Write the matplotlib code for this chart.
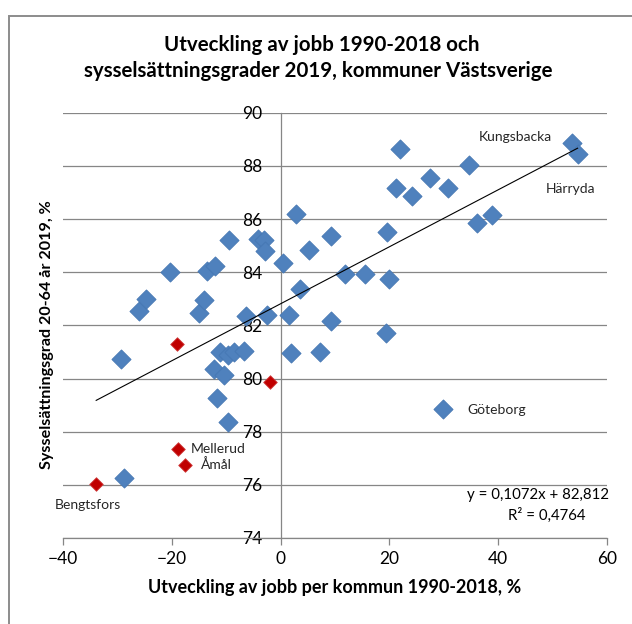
# Utveckling av jobb 1990-2018 vs sysselsättningsgrad 2019, kommuner Västsverige
import matplotlib
matplotlib.use('Agg')
import matplotlib.pyplot as plt
from matplotlib.patches import Rectangle
import numpy as np

plt.rcParams['font.family'] = ['Lato', 'DejaVu Sans']

# Blue municipalities: job growth 1990-2018 (%) and employment rate 20-64 2019 (%)
blue_x = [-29.3, -28.8, -26.0, -24.7, -20.3, -15.0, -14.0, -13.6, -12.0, -12.2,
          -11.7, -11.1, -10.4, -9.6, -9.6, -9.4, -8.5, -6.8, -6.3, -4.1,
          -3.0, -2.8, -2.5, 0.5, 1.5, 1.9, 2.8, 3.5, 5.2, 7.3,
          9.2, 9.3, 11.8, 15.6, 19.4, 19.5, 19.9, 21.3, 21.9, 24.1,
          27.4, 29.9, 30.8, 34.6, 36.1, 38.8, 53.5, 54.6]
blue_y = [80.75, 76.25, 82.55, 83.0, 84.0, 82.45, 82.95, 84.05, 84.25, 80.35,
          79.25, 81.0, 80.15, 80.9, 78.35, 85.2, 81.0, 81.05, 82.35, 85.25,
          85.2, 84.8, 82.4, 84.35, 82.4, 80.95, 86.2, 83.35, 84.85, 81.0,
          85.35, 82.15, 83.95, 83.95, 81.7, 85.5, 83.75, 87.15, 88.65, 86.85,
          87.55, 78.85, 87.15, 88.05, 85.85, 86.15, 88.85, 88.45]

# Highlighted (red) municipalities
red_x = [-33.9, -19.0, -18.8, -17.5, -2.0]
red_y = [76.05, 81.3, 77.35, 76.75, 79.85]

# Excel trendline
slope = 0.1072
intercept = 82.812
r2 = 0.4764

labels = ['Kungsbacka', 'Härryda', 'Göteborg', 'Mellerud', 'Åmål', 'Bengtsfors']
label_x = [36.5, 48.8, 34.3, -16.5, -14.6, -41.6]
label_y = [89.09, 87.14, 78.82, 77.35, 76.75, 75.25]

GRID = '#868686'
BLUE = '#4F81BD'
RED = '#C00000'

fig = plt.figure(figsize=(6.32, 6.24), dpi=100)
ax = fig.add_axes([63 / 632, 1 - 538 / 624, 544 / 632, 425.3 / 624])

ax.set_xlim(-40, 60)
ax.set_ylim(74, 90)
ax.set_xticks(np.arange(-40, 61, 20))
ax.set_yticks(np.arange(74, 91, 2))
ax.yaxis.grid(True, color=GRID, linewidth=0.9)
ax.set_axisbelow(True)

for s in ['top', 'right']:
    ax.spines[s].set_visible(False)
ax.spines['left'].set_position(('data', 0))
ax.spines['left'].set_color(GRID)
ax.spines['left'].set_linewidth(0.9)
ax.spines['bottom'].set_color(GRID)
ax.spines['bottom'].set_linewidth(0.9)
ax.tick_params(axis='x', direction='out', length=5, color=GRID, width=0.9,
               labelsize=12.5, pad=4)
ax.tick_params(axis='y', length=0, labelsize=12.5, pad=13)

ax.scatter(blue_x, blue_y, marker='D', s=95, color=BLUE,
           edgecolor='#4577B3', linewidth=0.6, zorder=3)
ax.scatter(red_x, red_y, marker='D', s=48, color=RED,
           edgecolor='#D04040', linewidth=0.6, zorder=3)

all_x = np.array(blue_x + red_x)
tx = np.array([all_x.min(), all_x.max()])
ax.plot(tx, slope * tx + intercept, color='black', linewidth=0.8, zorder=4)

for lab, lx, ly in zip(labels, label_x, label_y):
    ax.text(lx, ly, lab, fontsize=10, ha='left', va='center',
            color='#262626', clip_on=False)

ax.text(60.3, 75.6, f'y = {slope:.4f}x + {intercept:.3f}'.replace('.', ','),
        fontsize=10.8, ha='right', va='center', color='black')
ax.text(49.0, 74.84, f'R² = {r2:.4f}'.replace('.', ','),
        fontsize=10.8, ha='center', va='center', color='black')

ax.set_xlabel('Utveckling av jobb per kommun 1990-2018, %', fontsize=13,
              fontweight='bold', labelpad=9)
fig.text(47 / 632, 1 - 335 / 624, 'Sysselsättningsgrad 20-64 år 2019, %',
         rotation=90, ha='center', va='center', fontsize=11.6, fontweight='bold')

fig.text(322 / 632, 1 - 45 / 624, 'Utveckling av jobb 1990-2018 och',
         ha='center', va='center', fontsize=14.8, fontweight='bold')
fig.text(318 / 632, 1 - 71 / 624, 'sysselsättningsgrader 2019, kommuner Västsverige',
         ha='center', va='center', fontsize=14.8, fontweight='bold')

# outer chart frame
fig.patches.append(Rectangle((9 / 632, -0.05), 1.1, 0.05 + 1 - 16 / 624,
                             transform=fig.transFigure, fill=False,
                             edgecolor='#8C8C8C', linewidth=1.4))

fig.savefig('out.png', dpi=100)
